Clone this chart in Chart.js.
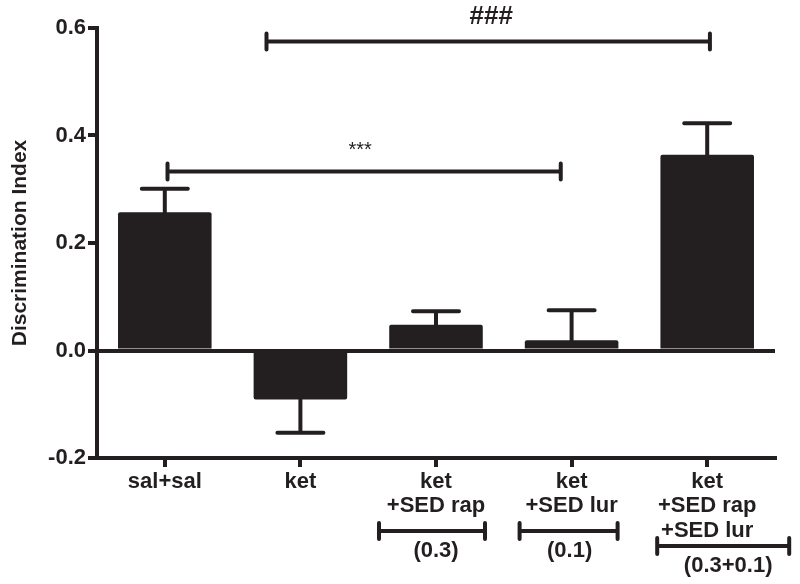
<!DOCTYPE html>
<html>
<head>
<meta charset="utf-8">
<script src="https://cdn.jsdelivr.net/npm/chart.js@4"></script>
<style>
  html, body { margin: 0; padding: 0; background: #fff; }
  #wrap { width: 800px; height: 584px; position: relative; }
</style>
</head>
<body>
<div id="wrap"><canvas id="main-chart"></canvas></div>
<script>
const groups = [['sal+sal'], ['ket'], ['ket', '+SED rap'], ['ket', '+SED lur'], ['ket', '+SED rap', '+SED lur']];
const means = [0.257, -0.091, 0.048, 0.019, 0.364];
const sem = [0.044, 0.062, 0.025, 0.056, 0.059];
const doses = ['', '', '(0.3)', '(0.1)', '(0.3+0.1)'];
const yTicks = [-0.2, 0.0, 0.2, 0.4, 0.6];
// significance brackets, from/to in category index units
const sigBrackets = [
  { from: 0.75, to: 4.02, y: 0.575, label: '###' },
  { from: 0.02, to: 2.92, y: 0.333, label: '***' },
];

const ink = '#231f20';
const fontFamily = '"Liberation Sans", Arial, sans-serif';

const errorBars = {
  id: 'errorBars',
  afterDatasetsDraw(chart) {
    const { ctx, scales: { y } } = chart;
    const meta = chart.getDatasetMeta(0);
    ctx.save();
    ctx.strokeStyle = ink;
    ctx.lineWidth = 4;
    ctx.lineCap = 'round';
    meta.data.forEach((bar, i) => {
      const dir = means[i] < 0 ? -1 : 1;
      const y0 = y.getPixelForValue(means[i]);
      const y1 = y.getPixelForValue(means[i] + dir * sem[i]);
      ctx.beginPath();
      ctx.moveTo(bar.x, y0);
      ctx.lineTo(bar.x, y1);
      ctx.moveTo(bar.x - 23, y1);
      ctx.lineTo(bar.x + 23, y1);
      ctx.stroke();
    });
    ctx.restore();
  },
};

const annotations = {
  id: 'annotations',
  afterDraw(chart) {
    const { ctx, chartArea, scales: { x, y } } = chart;
    ctx.save();
    ctx.strokeStyle = ink;
    ctx.fillStyle = ink;
    ctx.lineWidth = 4;
    ctx.lineCap = 'round';
    ctx.textAlign = 'center';
    ctx.textBaseline = 'middle';

    sigBrackets.forEach((b, k) => {
      const x0 = x.getPixelForValue(b.from);
      const x1 = x.getPixelForValue(b.to);
      const py = y.getPixelForValue(b.y);
      ctx.beginPath();
      ctx.moveTo(x0, py);
      ctx.lineTo(x1, py);
      ctx.moveTo(x0, py - 8);
      ctx.lineTo(x0, py + 8);
      ctx.moveTo(x1, py - 8);
      ctx.lineTo(x1, py + 8);
      ctx.stroke();
      if (k === 0) {
        ctx.font = 'bold 26px ' + fontFamily;
        ctx.fillText(b.label, (x0 + x1) / 2 + 3, py - 25);
      } else {
        ctx.font = '20px ' + fontFamily;
        ctx.fillText(b.label, (x0 + x1) / 2 - 4, py - 21);
      }
    });

    // dose brackets under the group labels
    const halfW = [0, 0, 53, 49, 66];
    const shift = [0, 0, -4, -3, 16];
    const textShift = [0, 0, 0, -2, 21];
    const drop = { 2: 73, 3: 88 };
    ctx.font = 'bold 22px ' + fontFamily;
    doses.forEach((d, i) => {
      if (!d) return;
      const cx = x.getPixelForValue(i);
      const by = chartArea.bottom + drop[groups[i].length];
      const l = cx + shift[i] - halfW[i];
      const r = cx + shift[i] + halfW[i];
      ctx.beginPath();
      ctx.moveTo(l, by);
      ctx.lineTo(r, by);
      ctx.moveTo(l, by - 8);
      ctx.lineTo(l, by + 8);
      ctx.moveTo(r, by - 8);
      ctx.lineTo(r, by + 8);
      ctx.stroke();
      ctx.fillText(d, cx + textShift[i], by + 20);
    });
    ctx.restore();
  },
};

new Chart(document.getElementById('main-chart'), {
  type: 'bar',
  data: {
    labels: groups,
    datasets: [{
      data: means,
      backgroundColor: ink,
      borderRadius: 2,
      barPercentage: 0.69,
      categoryPercentage: 1,
    }],
  },
  options: {
    animation: false,
    responsive: true,
    maintainAspectRatio: false,
    layout: { padding: { top: 28, right: 25, left: 0, bottom: 0 } },
    plugins: {
      legend: { display: false },
      tooltip: { enabled: false },
    },
    scales: {
      x: {
        offset: true,
        afterFit: (scale) => { scale.height = 126; },
        grid: {
          drawOnChartArea: false,
          tickLength: 9,
          tickWidth: 4,
          tickColor: ink,
          lineWidth: 4,
          offset: false,
        },
        border: { display: true, color: ink, width: 4 },
        ticks: {
          color: ink,
          padding: 3,
          maxRotation: 0,
          autoSkip: false,
          font: { family: fontFamily, size: 22, weight: 'bold', lineHeight: 1.1 },
        },
      },
      y: {
        min: yTicks[0],
        max: yTicks[yTicks.length - 1],
        afterFit: (scale) => { scale.width = 97; },
        afterBuildTicks: (scale) => { scale.ticks = yTicks.map((v) => ({ value: v })); },
        grid: {
          color: (c) => (c.tick && c.tick.value === 0 ? ink : 'rgba(0,0,0,0)'),
          tickColor: ink,
          tickLength: 9,
          tickWidth: 4,
          lineWidth: 4,
        },
        border: { display: true, color: ink, width: 4 },
        ticks: {
          color: ink,
          padding: 2,
          font: { family: fontFamily, size: 22, weight: 'bold' },
          callback: (v) => Number(v).toFixed(1),
        },
        title: {
          display: true,
          text: 'Discrimination Index',
          color: ink,
          padding: { top: 8, bottom: 0 },
          font: { family: fontFamily, size: 21, weight: 'bold' },
        },
      },
    },
  },
  plugins: [errorBars, annotations],
});
</script>
</body>
</html>
